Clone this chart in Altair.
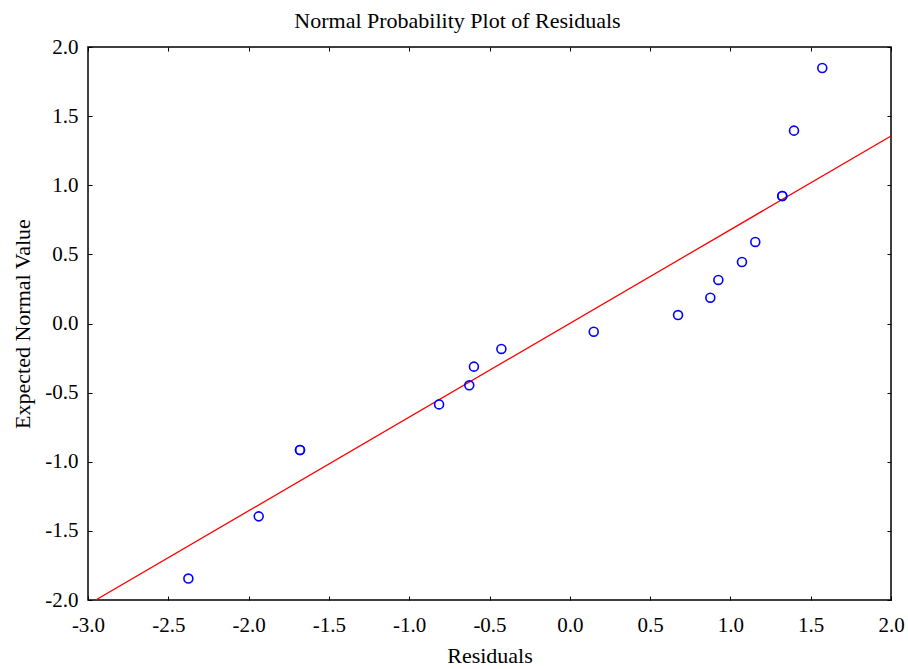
import altair as alt
import pandas as pd

# Residuals and their expected normal values (ties share the same expected value)
residuals = [-2.375, -1.937, -1.680, -1.680, -0.814, -0.626, -0.597, -0.426, 0.149,
             0.674, 0.875, 0.925, 1.072, 1.155, 1.323, 1.323, 1.396, 1.572]
expected = [-1.845, -1.395, -0.915, -0.915, -0.585, -0.447, -0.312, -0.184, -0.059,
            0.061, 0.187, 0.315, 0.445, 0.590, 0.922, 0.922, 1.395, 1.848]

# Reference line end points
line_x = [-2.952, 2.0]
line_y = [-2.0, 1.356]

x_ticks = [-3.0, -2.5, -2.0, -1.5, -1.0, -0.5, 0.0, 0.5, 1.0, 1.5, 2.0]
y_ticks = [-2.0, -1.5, -1.0, -0.5, 0.0, 0.5, 1.0, 1.5, 2.0]

pts = pd.DataFrame({"r": residuals, "e": expected})
ref = pd.DataFrame({"r": line_x, "e": line_y})

FONT = "Liberation Serif"
label_expr = "replace(format(datum.value, '.1f'), '\u2212', '-')"

xs = alt.Scale(domain=[-3, 2], nice=False, zero=False)
ys = alt.Scale(domain=[-2, 2], nice=False, zero=False)

x_bottom = alt.Axis(values=x_ticks, orient="bottom", grid=False, domain=False,
                    tickSize=4, offset=-4, tickColor="black", labelFont=FONT,
                    labelFontSize=21, labelColor="black", labelPadding=14,
                    labelExpr=label_expr, title="Residuals", titleFont=FONT,
                    titleFontSize=22, titleFontWeight="normal", titleColor="black",
                    titlePadding=10, labelFlush=False)
y_left = alt.Axis(values=y_ticks, orient="left", grid=False, domain=False,
                  tickSize=4, offset=-4, tickColor="black", labelFont=FONT,
                  labelFontSize=21, labelColor="black", labelPadding=10,
                  labelExpr=label_expr, title="Expected Normal Value", titleFont=FONT,
                  titleFontSize=22, titleFontWeight="normal", titleColor="black",
                  titlePadding=10, labelFlush=False)
x_top = alt.Axis(values=x_ticks, orient="top", grid=False, domain=False, tickSize=4,
                 offset=-4, tickColor="black", labels=False, title=None)
y_right = alt.Axis(values=y_ticks, orient="right", grid=False, domain=False, tickSize=4,
                   offset=-4, tickColor="black", labels=False, title=None)

points = alt.Chart(pts).mark_point(
    shape="circle", filled=False, color="#0000ff", size=80, strokeWidth=1.6, opacity=1
).encode(
    x=alt.X("r:Q", scale=xs, axis=x_bottom),
    y=alt.Y("e:Q", scale=ys, axis=y_left),
)

fit = alt.Chart(ref).mark_line(color="#ff0000", strokeWidth=1.3, clip=True).encode(
    x=alt.X("r:Q", scale=xs, axis=x_top),
    y=alt.Y("e:Q", scale=ys, axis=y_right),
)

chart = alt.layer(fit, points).resolve_axis(x="independent", y="independent").properties(
    width=803,
    height=553,
    background="white",
    padding={"left": 88, "top": 47, "right": 17, "bottom": 69},
    autosize=alt.AutoSizeParams(type="none"),
    title=alt.TitleParams("Normal Probability Plot of Residuals", font=FONT, fontSize=22,
                          fontWeight="normal", color="black", anchor="middle",
                          offset=3, dx=-32),
).configure_view(stroke="black", strokeWidth=1.5)

chart.save("out.html", embed_options={"renderer": "svg", "actions": False})
